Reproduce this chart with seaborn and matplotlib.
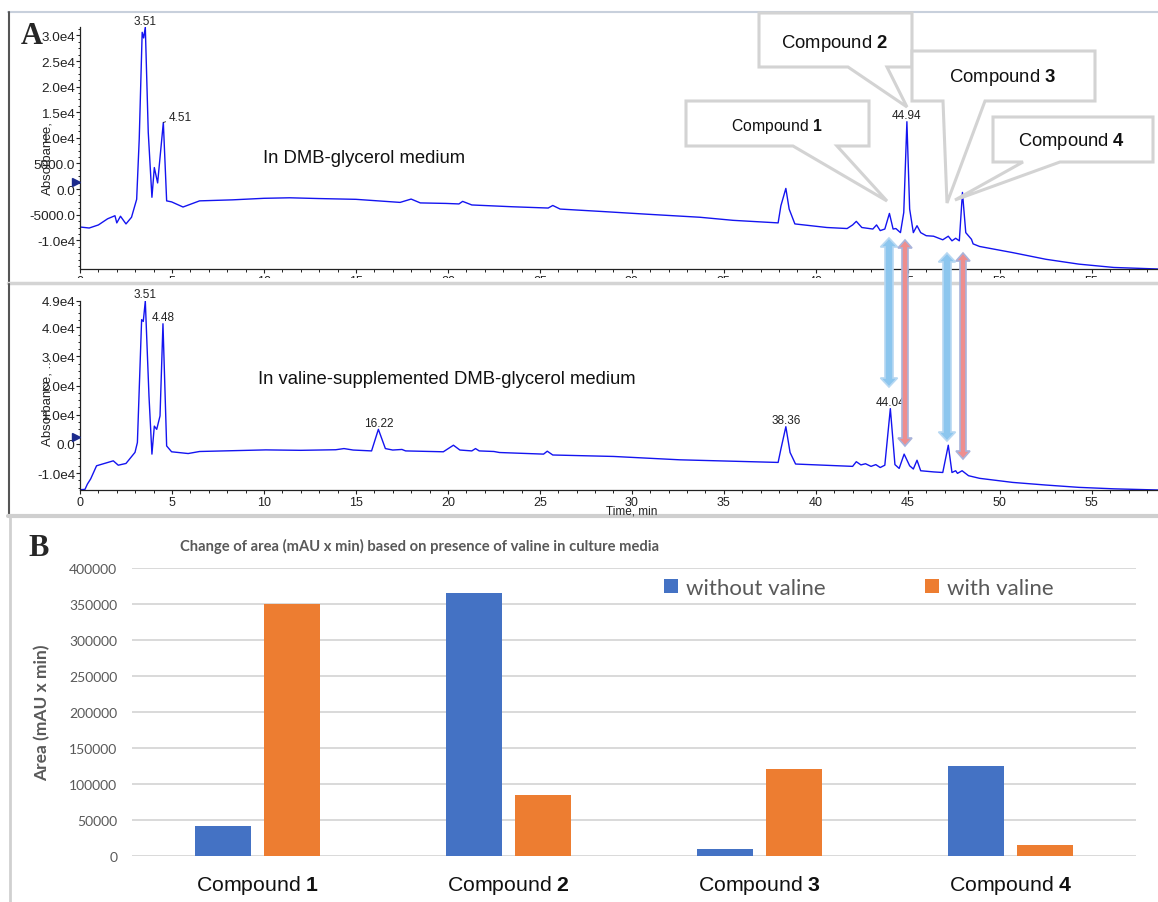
import numpy as np
import pandas as pd
import matplotlib
matplotlib.use('Agg')
import matplotlib.pyplot as plt
import seaborn as sns
from matplotlib.patches import Polygon, Rectangle, Patch
from matplotlib.lines import Line2D
from matplotlib.ticker import MultipleLocator

# ---- chromatogram A (top): DMB-glycerol medium ----
top_t = [0, 0.5, 1.0, 1.5, 1.9, 2.0, 2.2, 2.5, 2.8, 3.08, 3.22, 3.38, 3.46, 3.55, 3.71, 3.91,
         4.04, 4.22, 4.53, 4.71, 4.98, 5.6, 6.5, 8.3, 10.0, 11.4, 13.0, 15.0, 17.4, 18.0, 18.5,
         19.9, 20.6, 20.8, 21.3, 23.5, 25.45, 25.7, 26.1, 28.5, 30.8, 33.7, 35.5, 37.95, 38.1,
         38.37, 38.55, 38.86, 40.6, 41.7, 42.0, 42.2, 42.5, 43.1, 43.3, 43.5, 43.75, 44.0, 44.2,
         44.35, 44.6, 44.78, 44.95, 45.1, 45.3, 45.5, 45.7, 46.0, 46.4, 46.9, 47.2, 47.4, 47.6,
         47.8, 47.97, 48.15, 48.46, 48.55, 48.9, 50.7, 52.5, 54.3, 56.2, 58.6]
top_y = [-7400, -7600, -7000, -5800, -5200, -6600, -5300, -6800, -5500, -2000, 9800, 30600, 29500,
         31600, 11100, -1600, 4200, 1200, 13000, -2300, -2500, -3500, -2300, -2100, -1800, -1700,
         -1850, -2000, -2600, -1950, -2700, -2800, -2900, -2400, -3100, -3450, -3700, -3200, -3900,
         -4400, -4900, -5500, -6100, -6600, -3260, 130, -3900, -6800, -7500, -7700, -7000, -6300,
         -7500, -7800, -7000, -8100, -7800, -4750, -7800, -7700, -8500, -4560, 13150, -3900, -8500,
         -7150, -8500, -9100, -9200, -9900, -9200, -10100, -9600, -10100, -650, -8500, -9800,
         -10700, -11200, -12400, -13700, -14650, -15300, -15600]

# ---- chromatogram A (bottom): valine-supplemented medium ----
bot_t = [0, 0.27, 0.4, 0.58, 0.9, 1.81, 2.08, 2.5, 2.99, 3.12, 3.35, 3.44, 3.55, 3.75, 3.91, 4.04,
         4.17, 4.35, 4.51, 4.71, 4.98, 5.88, 6.5, 10.1, 12.0, 13.9, 14.35, 14.85, 15.85, 16.22,
         16.6, 17.0, 17.5, 17.7, 19.75, 20.3, 20.65, 21.3, 21.5, 21.7, 22.5, 22.8, 25.2, 25.4,
         25.7, 29.0, 32.6, 37.95, 38.1, 38.37, 38.6, 38.9, 42.0, 42.2, 42.45, 42.7, 43.0, 43.26,
         43.5, 43.75, 44.05, 44.3, 44.53, 44.8, 45.1, 45.3, 45.5, 45.7, 46.4, 46.9, 47.2, 47.4,
         47.6, 47.7, 47.95, 48.3, 48.9, 50.7, 52.5, 54.3, 56.2, 58.6]
bot_y = [-15700, -15600, -13800, -12000, -7500, -5800, -7300, -6700, -2900, 480, 42600, 42000, 49000,
         16400, -3500, 6100, 5000, 9600, 41200, -700, -2700, -3300, -2600, -2050, -2200, -2000,
         -1600, -2100, -2400, 5000, -1600, -2100, -1900, -2400, -2700, -450, -2100, -2400, -1600,
         -2400, -2600, -2950, -3500, -2500, -3800, -4300, -5450, -6350, -1800, 5900, -2950, -6900,
         -7700, -6100, -7200, -6800, -7700, -7100, -8100, -7300, 12100, -7100, -8400, -3500,
         -7500, -8600, -5600, -9200, -9600, -9800, -450, -9800, -9200, -10100, -9200, -10900,
         -11800, -13200, -14100, -14900, -15400, -15800]

top_peak_labels = ['3.51', '4.51', '44.94']
top_peak_t = [3.55, 4.53, 44.95]
top_peak_y = [31600, 13000, 13150]
bot_peak_labels = ['3.51', '4.48', '16.22', '38.36', '44.04']
bot_peak_t = [3.55, 4.51, 16.22, 38.37, 44.05]
bot_peak_y = [49000, 41200, 5000, 5900, 12100]

top_yticks = [-10000, -5000, 0, 5000, 10000, 15000, 20000, 25000, 30000]
top_yticklabels = ['-1.0e4', '-5000.0', '0.0', '5000.0', '1.0e4', '1.5e4', '2.0e4', '2.5e4', '3.0e4']
bot_yticks = [-10000, 0, 10000, 20000, 30000, 40000, 49000]
bot_yticklabels = ['-1.0e4', '0.0', '1.0e4', '2.0e4', '3.0e4', '4.0e4', '4.9e4']
time_ticks = [0, 5, 10, 15, 20, 25, 30, 35, 40, 45, 50, 55]
zero_marker = [1400, 2300]

# ---- panel B bars ----
compounds = ['1', '2', '3', '4']
without_valine = [41500, 365000, 9700, 124600]
with_valine = [350000, 84400, 120400, 15200]
area_ticks = [0, 50000, 100000, 150000, 200000, 250000, 300000, 350000, 400000]

W, H = 1158, 903
BLUE, ORANGE = '#4472C4', '#ED7D31'
GREY = '#595959'
TRACE = '#1414f0'

sns.set_style('white')
plt.rcParams['font.family'] = ['Liberation Sans', 'DejaVu Sans']
plt.rcParams['mathtext.fontset'] = 'custom'
plt.rcParams['mathtext.rm'] = 'Liberation Sans'
plt.rcParams['mathtext.bf'] = 'Liberation Sans:bold'

fig = plt.figure(figsize=(W / 100, H / 100), dpi=100)


def fpos(x, y):
    return (x / W, 1 - y / H)


def axes_px(left, top, right, bottom):
    return [left / W, 1 - bottom / H, (right - left) / W, (bottom - top) / H]


ax1 = fig.add_axes(axes_px(80, 28.2, 1158, 270))
ax2 = fig.add_axes(axes_px(80, 302, 1158, 490.7))
ax3 = fig.add_axes(axes_px(132, 569, 1136, 857))
ax2.set_zorder(2)
ax3.set_zorder(2)

sns.lineplot(x=top_t, y=top_y, ax=ax1, color=TRACE, lw=1.0, sort=False, estimator=None)
sns.lineplot(x=bot_t, y=bot_y, ax=ax2, color=TRACE, lw=1.0, sort=False, estimator=None)

for ax, yt, ytl, ylim, minor, mk in [(ax1, top_yticks, top_yticklabels, (-15600, 31600), 1250, zero_marker[0]),
                                     (ax2, bot_yticks, bot_yticklabels, (-15700, 49000), 2500, zero_marker[1])]:
    ax.set_xlim(0, 58.6)
    ax.set_ylim(*ylim)
    ax.set_xticks(time_ticks)
    ax.set_xticklabels([str(t) for t in time_ticks])
    ax.xaxis.set_minor_locator(MultipleLocator(1))
    ax.set_yticks(yt)
    ax.set_yticklabels(ytl)
    ax.yaxis.set_minor_locator(MultipleLocator(minor))
    for s in ['top', 'right']:
        ax.spines[s].set_visible(False)
    for s in ['left', 'bottom']:
        ax.spines[s].set_color('#222222')
        ax.spines[s].set_linewidth(0.9)
    ax.tick_params(axis='both', which='major', direction='out', length=3, width=0.8,
                   color='#222222', labelcolor='#222222', bottom=True, left=True)
    ax.tick_params(axis='both', which='minor', direction='out', length=1.8, width=0.7,
                   color='#222222', bottom=True, left=True)
    ax.tick_params(axis='y', which='major', labelsize=9.7, pad=0.5)
    ax.tick_params(axis='x', which='major', labelsize=9, pad=1.5)
    ax.set_xlabel('')
    ax.set_ylabel('')
    ax.plot([-0.2], [mk], marker='>', color='#1b2a8c', ms=6, clip_on=False, zorder=5)

for lab, t, y in zip(top_peak_labels, top_peak_t, top_peak_y):
    if lab == '4.51':
        ax1.annotate(lab, xy=(t, y), xytext=(4, 4), textcoords='offset points', ha='left', va='center',
                     fontsize=8.5, color='#222222', annotation_clip=False,
                     arrowprops=dict(arrowstyle='-', lw=0.6, color='#222222', shrinkA=0, shrinkB=0))
    else:
        ax1.annotate(lab, xy=(t, y), xytext=(0, 0.5), textcoords='offset points', ha='center', va='bottom',
                     fontsize=8.5, color='#222222', annotation_clip=False)
for lab, t, y in zip(bot_peak_labels, bot_peak_t, bot_peak_y):
    ax2.annotate(lab, xy=(t, y), xytext=(0, 0.5), textcoords='offset points', ha='center', va='bottom',
                 fontsize=8.5, color='#222222', annotation_clip=False)

fig.text(*fpos(47, 158), 'Absorbance,', rotation=90, ha='center', va='center', fontsize=9.5, color='#222222')
fig.text(*fpos(47, 402), 'Absorbance, ...', rotation=90, ha='center', va='center', fontsize=9.5, color='#222222')
fig.text(*fpos(632, 511), 'Time, min', ha='center', va='center', fontsize=8.5, color='#222222')
fig.text(*fpos(263, 159), 'In DMB-glycerol medium', ha='left', va='center', fontsize=13.3, color='#111111')
fig.text(*fpos(258, 380), 'In valine-supplemented DMB-glycerol medium', ha='left', va='center',
         fontsize=13.3, color='#111111')

# hide the top panel's cut tick labels under the panel divider
fig.add_artist(Rectangle(fpos(0, 296), 1, 17 / H, transform=fig.transFigure, facecolor='white',
                         edgecolor='none', zorder=1))


def fig_line(xs, ys, color, lw, z=3):
    fig.add_artist(Line2D([x / W for x in xs], [1 - y / H for y in ys], color=color, lw=lw,
                          transform=fig.transFigure, zorder=z))


fig_line([8, 1158], [13, 13], '#c8d0dc', 1.5)
fig_line([8.5, 8.5], [13, 284], '#555555', 1.5)
fig_line([8, 1158], [284, 284], '#d4d4d4', 2.5)
fig_line([9, 9], [285, 517], '#555555', 1.5)
fig_line([8, 1158], [517, 517], '#cfcfcf', 3)
fig_line([9.5, 9.5], [519, 903], '#d0d0d0', 2)

fig.text(*fpos(32, 36), 'A', ha='center', va='center', fontsize=22, fontweight='bold',
         family='Liberation Serif', zorder=6)


# callouts: box (x0, y0, x1, y1), tail base (bx0, bx1), apex (ax, ay), label pos, size, text
callouts = [
    ((759, 14, 912, 68), (848, 887), (907, 108), (835, 43), 13.3, 'Compound $\\mathbf{2}$'),
    ((912, 52, 1095, 102), (943, 985), (947, 204), (1003, 78), 13.3, 'Compound $\\mathbf{3}$'),
    ((686, 102, 869, 147), (793, 837), (887, 202), (777, 126), 11.3, 'Compound $\\mathbf{1}$'),
    ((993, 118, 1153, 163), (1023, 1060), (955, 201), (1072, 142), 13.2, 'Compound $\\mathbf{4}$'),
]
for (x0, y0, x1, y1), (bx0, bx1), (axp, ayp), (lx, ly), fs, txt in callouts:
    pts = [(x0, y0), (x1, y0), (x1, y1), (bx1, y1), (axp, ayp), (bx0, y1), (x0, y1)]
    fig.add_artist(Polygon([fpos(*p) for p in pts], closed=True, transform=fig.transFigure,
                           facecolor='white', edgecolor='#d3d3d3', lw=2.2, zorder=4))
    fig.text(*fpos(lx, ly), txt, ha='center', va='center', fontsize=fs, color='#111111', zorder=4.5)


def double_arrow(x, y0, y1, sw, hw, hl, face, edge):
    pts = [(x, y0), (x + hw, y0 + hl), (x + sw, y0 + hl), (x + sw, y1 - hl), (x + hw, y1 - hl),
           (x, y1), (x - hw, y1 - hl), (x - sw, y1 - hl), (x - sw, y0 + hl), (x - hw, y0 + hl)]
    fig.add_artist(Polygon([fpos(*p) for p in pts], closed=True, transform=fig.transFigure,
                           facecolor=face, edgecolor=edge, lw=1.2, zorder=5))


double_arrow(889, 239, 388, 4, 8.5, 9, '#8cc6ee', '#b7d8f2')
double_arrow(947, 254, 442, 4, 8.5, 9, '#8cc6ee', '#b7d8f2')
double_arrow(905, 241, 447, 3, 7, 8, '#ee8e8e', '#a9b3da')
double_arrow(963, 254, 460, 3, 7, 8, '#ee8e8e', '#a9b3da')

# ---- panel B ----
df = pd.DataFrame({
    'compound': compounds * 2,
    'condition': ['without valine'] * 4 + ['with valine'] * 4,
    'area': without_valine + with_valine,
})
sns.barplot(data=df, x='compound', y='area', hue='condition', palette=[BLUE, ORANGE],
            width=0.556, gap=0.2, saturation=1, linewidth=0, legend=False, ax=ax3)
ax3.set_xlim(-0.5, 3.5)
ax3.set_ylim(0, 400000)
ax3.set_yticks(area_ticks)
ax3.set_yticklabels([str(v) for v in area_ticks])
ax3.set_xticks(range(len(compounds)))
ax3.set_xticklabels(['Compound $\\mathbf{%s}$' % c for c in compounds])
ax3.yaxis.grid(True, color='#d9d9d9', lw=1.4)
ax3.xaxis.grid(False)
ax3.set_axisbelow(True)
for s in ax3.spines.values():
    s.set_visible(False)
ax3.tick_params(axis='y', length=0, pad=10.5, labelsize=10, labelcolor=GREY)
ax3.tick_params(axis='x', length=0, pad=12, labelsize=15.3, labelcolor='#111111')
for lab in ax3.get_yticklabels():
    lab.set_family(['Lato', 'DejaVu Sans'])
ax3.set_xlabel('')
ax3.set_ylabel('Area (mAU x min)', fontsize=12.5, fontweight='bold', color=GREY, family=['Lato', 'DejaVu Sans'])
ax3.yaxis.set_label_coords(-0.0817, 0.5)

handles = [Patch(facecolor=BLUE, edgecolor='none'), Patch(facecolor=ORANGE, edgecolor='none')]
leg = ax3.legend(handles, ['without valine', 'with valine'], loc='center left',
                 bbox_to_anchor=fpos(664, 589), bbox_transform=fig.transFigure, ncol=2, frameon=False,
                 borderpad=0, borderaxespad=0, handlelength=0.62, handleheight=0.62, handletextpad=0.35,
                 columnspacing=4.5, prop={'family': ['Lato', 'DejaVu Sans'], 'size': 16})
for t in leg.get_texts():
    t.set_color(GREY)

fig.text(*fpos(180, 546), 'Change of area (mAU x min) based on presence of valine in culture media',
         ha='left', va='center', fontsize=10.6, fontweight='bold', color=GREY, family=['Lato', 'DejaVu Sans'])
fig.text(*fpos(39, 548), 'B', ha='center', va='center', fontsize=22, fontweight='bold',
         family='Liberation Serif')

fig.savefig('out.png', dpi=100)
